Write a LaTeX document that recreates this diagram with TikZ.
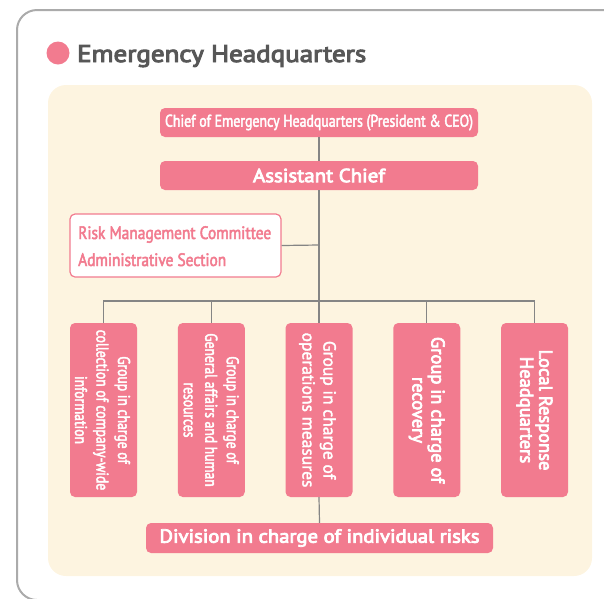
\documentclass[tikz,border=0pt]{standalone}
\usepackage{fontspec}
\setmainfont{PT Sans}
\newfontfamily\condf[FakeStretch=0.8,FakeBold=2.5]{PT Sans}
\newfontfamily\semif[FakeBold=4]{PT Sans}
\newfontfamily\medf[FakeBold=2]{PT Sans}
\usepackage{graphicx}
\definecolor{pinkf}{HTML}{F27B8F}
\definecolor{cream}{HTML}{FDF4E0}
\definecolor{lineg}{HTML}{858585}
\definecolor{frameg}{HTML}{ABABAB}
\definecolor{titleg}{HTML}{575757}
\newcommand{\fitto}[2]{\resizebox{#1}{\height}{#2}}
\tikzset{
  pbox/.style={fill=pinkf, rounded corners=5pt, text=white, inner sep=0pt},
  vbox/.style={pbox, minimum width=67pt, minimum height=174pt},
  vtext/.style={rotate=-90, text=white, align=center, inner sep=0pt},
  conn/.style={draw=lineg, line width=1.2pt},
}
\begin{document}
\begin{tikzpicture}[x=1pt,y=-1pt]
\useasboundingbox (0,0) rectangle (604,598);
\clip (0,0) rectangle (604,598);
% outer frame
\draw[frameg, line width=2pt, rounded corners=20pt] (17,10) rectangle (660,600);
% title
\fill[pinkf] (58,53) circle (11.5);
\node[anchor=base west, inner sep=0pt, text=titleg, font=\semif\fontsize{24}{28}\selectfont] (title) at (77,62) {\fitto{289pt}{Emergency Headquarters}};
% cream panel
\fill[cream, rounded corners=18pt] (48,85) rectangle (592,576);

% connector junctions
\coordinate (bus) at (319,301);
\coordinate (rj) at (319,245);

% top boxes
\node[pbox, minimum width=318pt, minimum height=29pt, font=\condf\fontsize{17}{20}\selectfont] (chief) at (319,122.5) {\fitto{308pt}{Chief of Emergency Headquarters (President \& CEO)}};
\node[pbox, minimum width=318pt, minimum height=29pt, font=\semif\fontsize{19}{22}\selectfont] (asst) at (319,175.5) {\fitto{132pt}{Assistant Chief}};
\node[draw=pinkf, line width=1.2pt, fill=white, rounded corners=5pt, minimum width=211pt, minimum height=63pt, inner sep=0pt] (risk) at (175.5,245.5) {};
\node[anchor=base west, inner sep=0pt, text=pinkf, font=\condf\fontsize{18}{20}\selectfont] (riskA) at (78,239) {\fitto{193pt}{Risk Management Committee}};
\node[anchor=base west, inner sep=0pt, text=pinkf, font=\condf\fontsize{18}{20}\selectfont] (riskB) at (78,266) {\fitto{148pt}{Administrative Section}};

% group boxes
\node[vbox] (g1) at (103.5,410) {};
\node[vbox] (g2) at (211.25,410) {};
\node[vbox] (g3) at (319,410) {};
\node[vbox] (g4) at (426.75,410) {};
\node[vbox] (g5) at (534.5,410) {};

\node[vtext, font=\condf\fontsize{17}{21.5}\selectfont] (t1) at ([xshift=-1pt]g1.center) {Group in charge of\\collection of company-wide\\information};
\node[vtext, font=\condf\fontsize{17}{21.5}\selectfont] (t2) at (g2.center) {Group in charge of\\General affairs and human\\resources};
\node[vtext, font=\medf\fontsize{17.5}{21}\selectfont] (t3) at ([xshift=-1.5pt]g3.center) {Group in charge of\\operations measures};
\node[vtext, font=\semif\fontsize{18.5}{19}\selectfont] (t4) at (g4.center) {Group in charge of\\recovery};
\node[vtext, font=\semif\fontsize{18.5}{19}\selectfont] (t5) at (g5.center) {Local Response\\Headquarters};

\node[pbox, minimum width=347pt, minimum height=30pt, font=\semif\fontsize{19}{22}\selectfont] (div) at (319.5,538) {\fitto{320pt}{Division in charge of individual risks}};

\draw[conn] (chief.south) -- (asst.north);
\draw[conn] (asst.south) -- (g3.north);
\draw[conn] (risk.east) -- (rj);
\draw[conn] (g1.north) |- (bus) -| (g5.north);
\draw[conn] (g2.north) -- (g2.north |- bus);
\draw[conn] (g4.north) -- (g4.north |- bus);
\draw[conn] (g3.south) -- (div.north);
\end{tikzpicture}
\end{document}
